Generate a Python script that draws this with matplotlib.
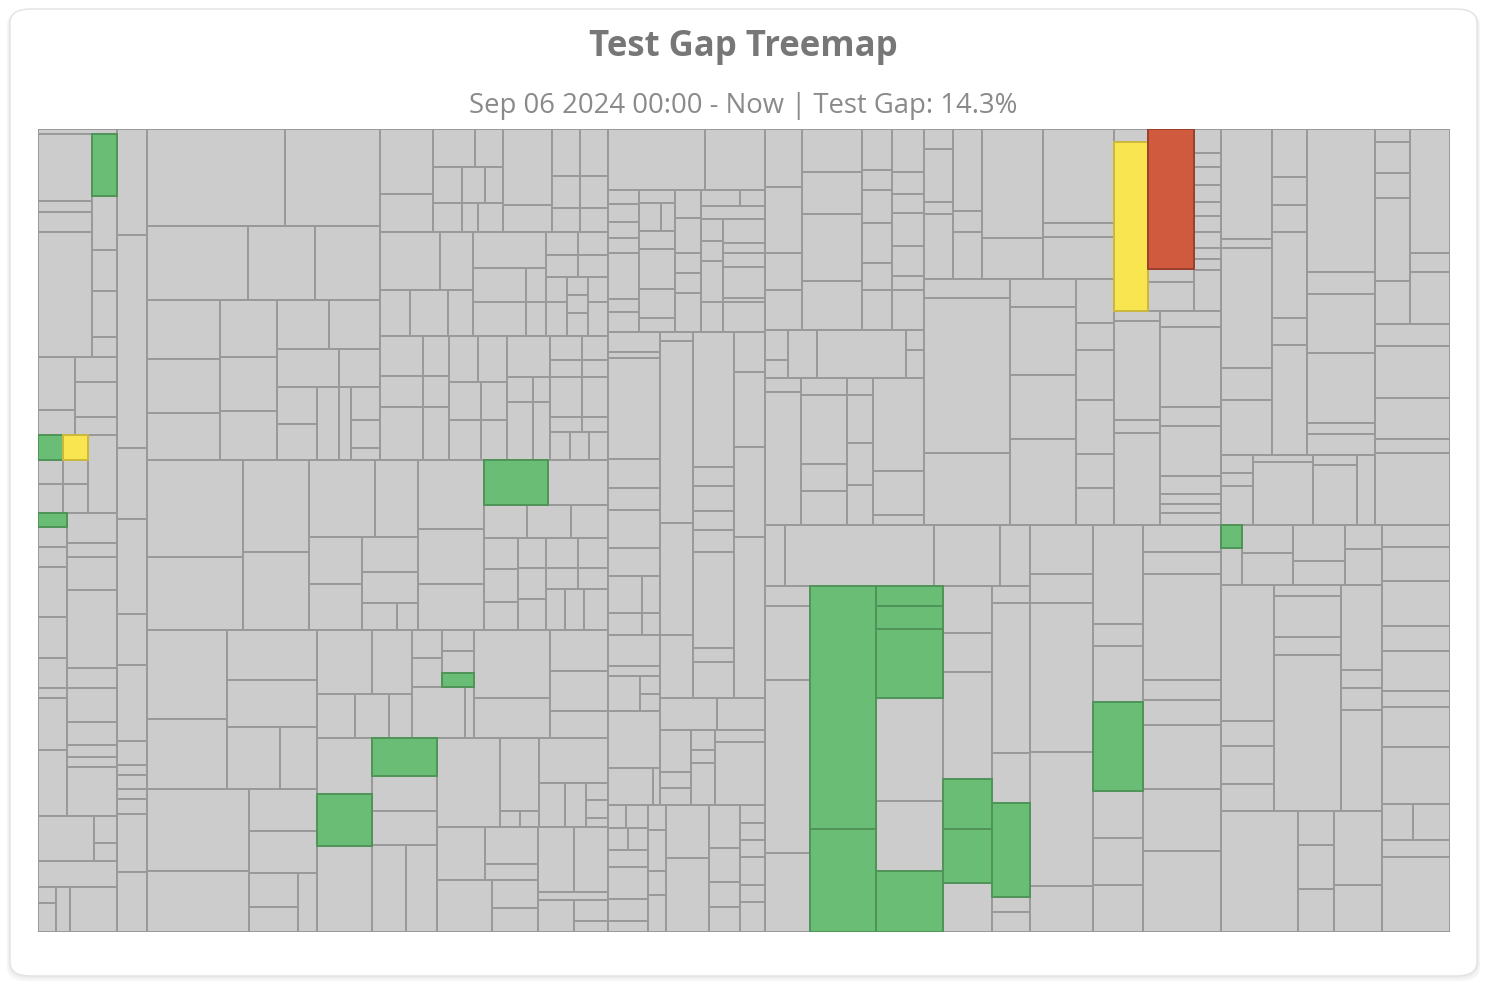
import matplotlib
matplotlib.use("Agg")
import matplotlib.pyplot as plt
from matplotlib.patches import Rectangle, FancyBboxPatch

# treemap data: each group is [size, child, child, ...]; children alternate
# between side-by-side and stacked. plain numbers are files without test gaps,
# ('G', n) tested changes, ('Y', n) partly tested, ('R', n) untested changes.
block_left = [79, 5,
              [223, [54, 67, 11, 20, 125], [25, ('G', 62), 54, 41, 46, 20]],
              [78, [37, 53, 25], [42, 25, 35, 18]],
              [78, [50, [25, ('G', 25), ('Y', 25)], [24, 25, 25], [29, 25, 25]], 29],
              [303, [29, ('G', 14), 20, 20, 50, 41, 30, 10, 52, 66],
               [50, 30, 14, 33, 78, 20, 34, 23, 12, 10, 49]],
              [45, 56, [23, 27, 18]],
              26,
              [45, [18, 16, 29], 14, 47]]

block_narrow = [30, 106, 213, 71, 95, 51, 76, 24, 10, 14, 10, 15, 58, 60]

mid_top = [331,
           [233, [97, 138, 95], [74, 101, 68, 65],
            [160, [73, 59, 54, 47], [57, 57, 54, 49],
             [103, [49, 52, 52], [38, 63, 41], [73, [40, 37, 36], 23, 12, [29, 33, 28, 12]]]]],
           [228,
            [103, [53, 65, 38], [70, [38, 42, 28], [36, 29, 23, 18], [29, 29, 16, 25]],
             [49, 76, 27], [56, [47, 28, 28], [32, 28, 28], [24, 28, 28]]],
            [104, [93, [58, 60, 33], [46, 30, 38, 25]], [73, 36, [34, 53, 20], [34, 53, 20]],
             [62, [23, 32, 30], [22, 32, 30], [59, [21, 25, 34], [21, 18, 18, 23], [20, 25, 34]]]],
            [124, [43, 40, 31, 53], [26, 40, 31, 53], [58, [46, 29, 29], [38, 32, 26], [40, 32, 26]],
             [43, 41, [25, 26, 17], [58, 26, 17]],
             [58, [24, 32, 26], [17, 32, 26], [40, 32, 26], [15, 32, 26], [28, 20, 19, 19]]]]]

mid_center = [170, [96, 97, 73], [66, 92, 78],
              [109, [77, 66, 43], [93, [52, 45, 45], [55, 34, 30, [26, 34, 21]]]],
              [66, 68, 55, 45],
              [124, [44, ('G', 63), 60], [33, 43, 44, 37],
               [91, [34, 30, 33, 27], [28, 29, 31, 30], [62, [29, 32, 30], [21, 32, 30], [40, 19, 19, 24]]]]]

mid_bottom = [302,
              [170, [159, [80, 89, 70], [90, 50, 47, [62, 52, 37]]],
               [143, [102, 82, 61], [68, 42, 42, [59, [49, 34, 25], 19]]]],
              [291,
               [108, [95, [64, 55, 40], [44, 38, 34, 23]],
                [62, [57, [30, 28, 29], [31, 21, 21, ('G', 14)]], [51, 52, 9]],
                [76, 68, 40], [58, 41, 39, 27]],
               [194, [55, 56, ('G', 51), 86], [65, ('G', 38), 35, 34, [87, 34, 31]],
                [171, [89, 63, [38, 72, [16, 20, 18]], [69, 45, [44, 26, 21, [22, 17, 17, 9]]]],
                 [105, [100, [53, 48, [52, 37, 16]], [52, 55, [45, 28, 24]]],
                  [70, [65, 36, 33], 8, [32, 36, [33, 21, 11]]]]]]]]

block_608 = [157,
             [61, 97, 60],
             [142, [31, 14, 18, 16, 15, 47, 13, 20], [35, 13, [28, 21, 14], 18, 41, 29, 14],
              [26, 28, 35, 21, 20, 39],
              [63, [16, 38, 25], 13, [114, [22, 22, 20, 42, 30], [41, 24, 10, 15, 31, 4, 30]]]],
             [473, [52, 20, 6, 100, 29, 21, 38, 28, [37, 34, 18], [21, 34, 18], 31, 10,
                    [35, 32, [20, 18, 17]], 56, [37, 45, 7]],
              [105, [366, [33, 9, 181, 112, 63], [41, 135, 19, 25, 18, 22, 96, 14, 36], [31, 40, 75, 89, 161]],
               [32, 57, 48],
               [75, [31, 41, 15, 17], [24, 19, 13, 41], [50, 12, 61]]]],
             [127, [39, [23, 18, 21], [22, 20, 19], 17, 32, 22, 11], [18, 25, 41, 24, 37], [43, 53, 74],
              [30, 43, 34, 25, 25], [25, 18, 17, 17, 28, 17, 30]]]

right_top = [396,
             [159, [201, [37, 58, 66, 37, 40], [60, 43, 42, 67, 49], [30, 41, 20, 33, 40, 27, 40],
                    [32, 43, 22, 19, 33, 30, 14, 40]],
              [48, [23, 30, 18], 29, 89, [18, 20, 28]],
              [147, [36, 14, 133], [46, 17, 68, 27, 34], [26, 17, 48, 41, 40], [51, 92, 44, 10]]],
             [190, [150, [29, 20, 53, 12, 65], [29, 82, 21, 47], [61, 109, 41], [71, 94, 14, 42]],
              [246, [86, 19, 154, 72], [66, 28, 68, 63, 86], [38, 44, 27, 50, 53, 34, 37]]],
             [107, [182, [34, 13, ('Y', 169)], [46, ('R', 140), 13, 29], [27, 24, 14, 18, 17, 14, 16, 16, 11, 11, 41]],
              [214, [46, 10, 98, 13, 91], [61, 16, 79, 19, 49, 18, 10, 9, 12]]],
             [154, [326, [51, 110, 9, 120, 32, 55], [35, 48, 28, 27, 86, 27, 110], [68, 143, 22, 59, 70, 11, 21]],
              [70, [32, 18, 13, 39], [60, 7, 63], [44, 10, 60], 18]],
             [75, [195, [35, 13, 31, 25, 83, 43], [40, 124, 19, 52]], 21, 52, 41, 14, 72]]

right_bottom = [407,
                [265, [61, 20, 148, 66, 30],
                 [347, [45, 20, 74, 174, 79], [65, ('G', 244), ('G', 103)],
                  [67, ('G', 20), ('G', 23), ('G', 69), 104, 70, ('G', 61)],
                  [48, 47, 39, 108, ('G', 50), ('G', 54), 49],
                  [38, 17, 151, 50, ('G', 94), 15, 20]]],
                [63, 49, 29, 150, 134, 46],
                [50, 99, 22, 56, ('G', 90), 47, 47, 47],
                [78, 27, 22, 106, 20, 25, 65, 62, 81],
                [161, [60, [21, ('G', 23), 37], [51, 28, 32], [51, 36, 24], [37, 24, 36]],
                 [227, [53, 136, 26, 38, 27], [67, 11, 41, 18, 157], [41, 85, 18, 22, 102]],
                 [121, 77, [35, 34, 44, 43], [48, 74, 47]]],
                [68, 22, 34, 45, 25, 40, 16, 41, 57, [36, 31, 36], 17, 75]]

block_mid = [461, mid_top, mid_center, mid_bottom]
block_right = [685, right_top, right_bottom]
blocks = [block_left, block_narrow, block_mid, block_608, block_right]

face = {'gray': '#cccccc', 'G': '#69bd75', 'Y': '#f8e54f', 'R': '#cf5a3e'}
edge = {'gray': '#999999', 'G': '#4f9358', 'Y': '#cbb83c', 'R': '#9c3f2b'}


def size(n):
    if isinstance(n, list):
        return n[0]
    if isinstance(n, tuple):
        return n[1]
    return n


def place(kids, x0, y0, x1, y1, along_x, out):
    total = sum(size(k) for k in kids)
    pos = x0 if along_x else y0
    span = (x1 - x0) if along_x else (y1 - y0)
    for k in kids:
        step = span * size(k) / total
        box = (pos, y0, pos + step, y1) if along_x else (x0, pos, x1, pos + step)
        pos += step
        if isinstance(k, list):
            place(k[1:], *box, not along_x, out)
        else:
            out.append((box, k[0] if isinstance(k, tuple) else 'gray'))


cells = []
place(blocks, 0, 0, 1, 1, True, cells)

fig = plt.figure(figsize=(14.86, 9.86), dpi=100)
fig.patch.set_facecolor('white')

# card with soft shadow
for i, a in enumerate([0.03, 0.03, 0.04]):
    fig.patches.append(FancyBboxPatch((10 / 1486 - i * 0.001, 10 / 986 - i * 0.0025), 1467 / 1486 + i * 0.002,
                                      966 / 986 + i * 0.002, boxstyle="round,pad=0,rounding_size=0.014",
                                      transform=fig.transFigure, facecolor='black', alpha=a,
                                      edgecolor='none', zorder=-3))
fig.patches.append(FancyBboxPatch((10 / 1486, 10 / 986), 1467 / 1486, 967 / 986,
                                  boxstyle="round,pad=0,rounding_size=0.014",
                                  transform=fig.transFigure, facecolor='white',
                                  edgecolor='#e2e2e2', linewidth=1, zorder=-2))

ax = fig.add_axes([38 / 1486, 1 - 932 / 986, 1412 / 1486, 803 / 986])
ax.set_zorder(5)
ax.patch.set_alpha(0)
ax.set_xlim(0, 1)
ax.set_ylim(1, 0)
ax.axis('off')

for status in ['gray', 'G', 'Y', 'R']:
    for (x0, y0, x1, y1), s in cells:
        if s != status:
            continue
        ax.add_patch(Rectangle((x0, y0), x1 - x0, y1 - y0, facecolor=face[s],
                               edgecolor=edge[s], linewidth=1.4))

fig.text(0.5, 1 - 47 / 986, 'Test Gap Treemap', ha='center', va='center',
         fontsize=25, fontweight='bold', color='#777777', family='Open Sans')
fig.text(0.5, 1 - 106 / 986, 'Sep 06 2024 00:00 - Now | Test Gap: 14.3%', ha='center',
         va='center', fontsize=19.8, color='#8a8a8a', family='Open Sans')

fig.savefig('out.png', dpi=100)
